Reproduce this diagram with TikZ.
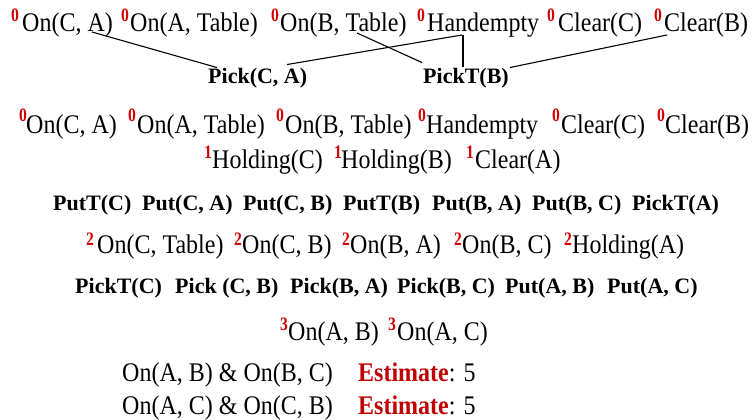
\documentclass[tikz,border=0pt]{standalone}
\usepackage{graphicx}
\usepackage{fontspec}
\setmainfont{Liberation Serif}
\usetikzlibrary{calc}
\definecolor{supred}{RGB}{210,0,0}
\definecolor{estred}{RGB}{192,0,0}
\newcommand{\tall}[1]{\scalebox{1}[1.12]{#1}}
\newcommand{\lv}[1]{\scalebox{0.95}[1.15]{#1}}
\tikzset{
  prop/.style={inner sep=0pt, anchor=base west, font=\fontsize{24}{28}\selectfont},
  act/.style={inner sep=0pt, anchor=base west, font=\fontsize{22}{26}\selectfont\bfseries},
  lvl/.style={inner sep=0pt, anchor=base west, text=supred, font=\fontsize{16.5}{19}\selectfont\bfseries},
  link/.style={draw=black, line width=1.1pt},
}
\begin{document}
\begin{tikzpicture}[x=1pt,y=-1pt]
\useasboundingbox (0,0) rectangle (752,420);
% Row 1
\node[lvl] (s11) at (11,22) {\lv{0}};  \node[prop] (t11) at (22,32) {\tall{On(C, A)}};
\node[lvl] (s12) at (121,22) {\lv{0}}; \node[prop] (t12) at (130,32) {\tall{On(A, Table)}};
\node[lvl] (s13) at (271,22) {\lv{0}}; \node[prop] (t13) at (280,32) {\tall{On(B, Table)}};
\node[lvl] (s14) at (417,22) {\lv{0}}; \node[prop] (t14) at (427,32) {\tall{Handempty}};
\node[lvl] (s15) at (547,22) {\lv{0}}; \node[prop] (t15) at (558,32) {\tall{Clear(C)}};
\node[lvl] (s16) at (654,22) {\lv{0}}; \node[prop] (t16) at (664,32) {\tall{Clear(B)}};
% Row 2
\node[act] (pca) at (208,83) {Pick(C, A)};
\node[act] (ptb) at (423,83) {PickT(B)};
% connectors
\draw[link] ($(t11.base west)+(70,0)$) -- ($(pca.north west)+(9,0)$);
\draw[link] ($(pca.north west)+(79,-3)$) -- ($(t14.base west)+(35,3)$);
\draw[link] ($(t13.base west)+(77,1)$) -- ($(ptb.north west)+(-1,-5)$);
\draw[link] ($(t14.base west)+(36,3)$) -- ($(ptb.north west)+(40,-1)$);
\draw[link] ($(ptb.north east)+(1,0)$) -- ($(t16.base west)+(3,3)$);
% Row 3
\node[lvl] (s31) at (19,121) {\lv{0}};  \node[prop] (t31) at (26,133) {\tall{On(C, A)}};
\node[lvl] (s32) at (128,121) {\lv{0}}; \node[prop] (t32) at (137,133) {\tall{On(A, Table)}};
\node[lvl] (s33) at (276,121) {\lv{0}}; \node[prop] (t33) at (285,133) {\tall{On(B, Table)}};
\node[lvl] (s34) at (418,121) {\lv{0}}; \node[prop] (t34) at (426,133) {\tall{Handempty}};
\node[lvl] (s35) at (552,121) {\lv{0}}; \node[prop] (t35) at (561,133) {\tall{Clear(C)}};
\node[lvl] (s36) at (657,121) {\lv{0}}; \node[prop] (t36) at (665,133) {\tall{Clear(B)}};
% Row 4
\node[lvl] (s41) at (204,158) {\lv{1}}; \node[prop] (t41) at (212,168) {\tall{Holding(C)}};
\node[lvl] (s42) at (334,158) {\lv{1}}; \node[prop] (t42) at (341,168) {\tall{Holding(B)}};
\node[lvl] (s43) at (466,158) {\lv{1}}; \node[prop] (t43) at (475,168) {\tall{Clear(A)}};
% Row 5
\node[act] (a51) at (53,210) {PutT(C)};
\node[act] (a52) at (142,210) {Put(C, A)};
\node[act] (a53) at (243,210) {Put(C, B)};
\node[act] (a54) at (343,210) {PutT(B)};
\node[act] (a55) at (432,210) {Put(B, A)};
\node[act] (a56) at (532,210) {Put(B, C)};
\node[act] (a57) at (632,210) {PickT(A)};
% Row 6
\node[lvl] (s61) at (86,245) {\lv{2}};  \node[prop] (t61) at (97,253) {\tall{On(C, Table)}};
\node[lvl] (s62) at (234,245) {\lv{2}}; \node[prop] (t62) at (242,253) {\tall{On(C, B)}};
\node[lvl] (s63) at (342,245) {\lv{2}}; \node[prop] (t63) at (350,253) {\tall{On(B, A)}};
\node[lvl] (s64) at (454,245) {\lv{2}}; \node[prop] (t64) at (462,253) {\tall{On(B, C)}};
\node[lvl] (s65) at (564,245) {\lv{2}}; \node[prop] (t65) at (572,253) {\tall{Holding(A)}};
% Row 7
\node[act] (a71) at (75,293) {PickT(C)};
\node[act] (a72) at (175,293) {Pick (C, B)};
\node[act] (a73) at (290,293) {Pick(B, A)};
\node[act] (a74) at (397,293) {Pick(B, C)};
\node[act] (a75) at (505,293) {Put(A, B)};
\node[act] (a76) at (607,293) {Put(A, C)};
% Row 8
\node[lvl] (s81) at (280,330) {\lv{3}}; \node[prop] (t81) at (288,340) {\tall{On(A, B)}};
\node[lvl] (s82) at (388,330) {\lv{3}}; \node[prop] (t82) at (397,340) {\tall{On(A, C)}};
% Rows 9-10
\node[prop] (g1) at (122,381) {\tall{On(A, B) \& On(B, C)}};
\node[prop] (e1) at (358,381) {\tall{\textcolor{estred}{\bfseries Estimate}: 5}};
\node[prop] (g2) at (122,414) {\tall{On(A, C) \& On(C, B)}};
\node[prop] (e2) at (358,414) {\tall{\textcolor{estred}{\bfseries Estimate}: 5}};
\end{tikzpicture}
\end{document}
